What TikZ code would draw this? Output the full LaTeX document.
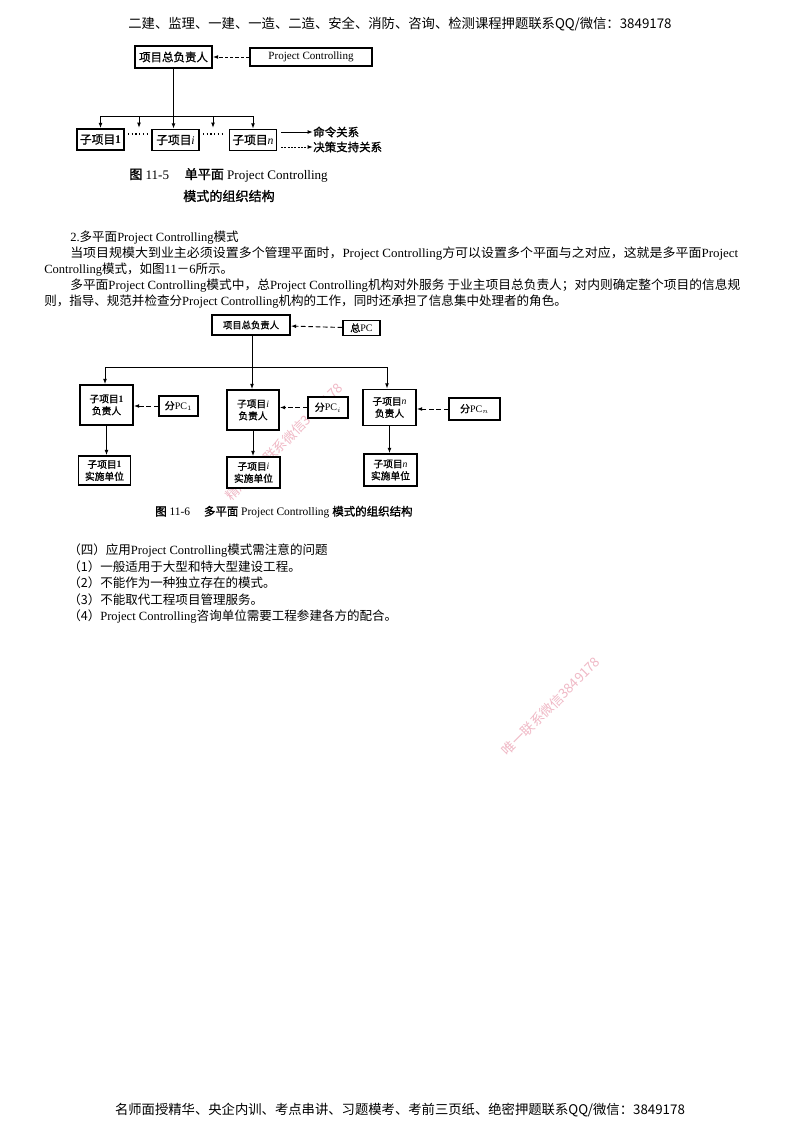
\documentclass[tikz,border=0pt]{standalone}
\usepackage{fontspec}
\usepackage{graphicx}
\setmainfont{Liberation Serif}
\newfontfamily\cjk{Noto Sans CJK SC}
\newfontfamily\cjkb{Noto Sans CJK SC}[FakeBold=1.2]
\usetikzlibrary{arrows.meta}
\definecolor{wm}{RGB}{240,185,198}
\newcommand\zh[1]{{\cjk #1}}
\newcommand\zhb[1]{{\cjkb #1}}
\newcommand\rmi[1]{{\rmfamily\itshape #1}}
\newcommand\rmn[1]{{\rmfamily\bfseries #1}}
\begin{document}
\begin{tikzpicture}[x=0.75pt,y=-0.75pt,
  box/.style={draw, line width=1.1pt, fill=white, inner sep=0pt, align=center},
  conn/.style={line width=0.7pt},
  arr/.style={-{Latex[length=4pt,width=2.8pt]}},
  dsh/.style={dash pattern=on 2.5pt off 1.5pt},
  body/.style={anchor=west, inner sep=0pt, font=\fontsize{9.4}{11}\selectfont},
  wmark/.style={text=wm, font=\cjk\fontsize{10}{12}\selectfont, rotate=45, inner sep=0pt},
  lab1/.style={font=\cjkb\fontsize{8.8}{10}\selectfont},
  lab2/.style={font=\cjkb\fontsize{7.3}{9}\selectfont}]
\useasboundingbox[fill=white] (0,0) rectangle (800,1132);

% header / footer
\node[font=\cjk\fontsize{10}{12}\selectfont] (hdr) at (400,24) {二建、监理、一建、一造、二造、安全、消防、咨询、检测课程押题联系QQ/微信：3849178};
\node[font=\cjk\fontsize{10}{12}\selectfont] (ftr) at (400,1110) {名师面授精华、央企内训、考点串讲、习题模考、考前三页纸、绝密押题联系QQ/微信：3849178};

% ---------- Figure 11-5 ----------
\node[box, minimum width=57.75pt, minimum height=16.5pt, font=\cjkb\fontsize{8.6}{10}\selectfont] (T1) at (173.5,57) {项目总负责人};
\node[box, minimum width=91.5pt, minimum height=13.5pt, font=\fontsize{8.3}{10}\selectfont] (PC) at (311,57) {Project Controlling};
\draw[conn, arr, dsh] (PC) -- (T1);

\node[box, minimum width=35.25pt, minimum height=15.75pt, lab1] (B1) at (100.5,139.5) {子项目\rmn{1}};
\node[box, minimum width=35.25pt, minimum height=15.75pt, lab1] (Bi) at (175.5,140) {子项目\rmi{i}};
\node[box, minimum width=35.25pt, minimum height=15.75pt, lab1] (Bn) at (253,140) {子项目\rmi{n}};

\coordinate (J1) at (173.5,116);
\coordinate (H1L) at (100.5,116);
\coordinate (H1R) at (253,116);
\coordinate (D1t) at (139,116);
\coordinate (D1b) at (139,128);
\coordinate (D2t) at (213,116);
\coordinate (D2b) at (213,128);
\draw[conn] (T1.south) -- (J1);
\draw[conn] (H1L) -- (H1R);
\draw[conn, arr] (H1L) -- (B1.north);
\draw[conn, arr] (J1) -- (J1 |- Bi.north);
\draw[conn, arr] (H1R) -- (Bn.north);
\draw[conn, arr] (D1t) -- (D1b);
\draw[conn, arr] (D2t) -- (D2b);
\draw[line width=0.8pt, dash pattern=on 0.8pt off 2pt] (128,134) -- (150,134);
\draw[line width=0.8pt, dash pattern=on 0.8pt off 2pt] (203,134) -- (225,134);

% legend
\node[anchor=west, inner sep=0pt, font=\cjkb\fontsize{8.6}{10}\selectfont] (Lg1) at (313,132) {命令关系};
\node[anchor=west, inner sep=0pt, font=\cjkb\fontsize{8.6}{10}\selectfont] (Lg2) at (313,147) {决策支持关系};
\coordinate (Lg1s) at (281,132);
\coordinate (Lg2s) at (281,147);
\draw[conn, arr] (Lg1s) -- (Lg1.west);
\draw[conn, arr, dash pattern=on 1.5pt off 1pt] (Lg2s) -- (Lg2.west);

% caption
\node[anchor=west, inner sep=0pt, font=\fontsize{9.8}{12}\selectfont] (cap1) at (129,175) {\zhb{图} 11-5\hspace{1.2em}\zhb{单平面} Project Controlling};
\node[anchor=west, inner sep=0pt, font=\cjkb\fontsize{9.8}{12}\selectfont] (cap1b) at (183,196) {模式的组织结构};

% ---------- body text ----------
\node[body] (p1) at (70,238) {2.\zh{多平面}Project Controlling\zh{模式}};
\node[body] (p2) at (70,254) {\resizebox{501pt}{\height}{\zh{当项目规模大到业主必须设置多个管理平面时，}Project Controlling\zh{方可以设置多个平面与之对应，这就是多平面}Project}};
\node[body] (p3) at (44,270) {Controlling\zh{模式，如图}11\zh{－}6\zh{所示。}};
\node[body] (p4) at (70,286) {\resizebox{502.5pt}{\height}{\zh{多平面}Project Controlling\zh{模式中，总}Project Controlling\zh{机构对外服务 于业主项目总负责人；对内则确定整个项目的信息规}}};
\node[body] (p5) at (44,302) {\zh{则，指导、规范并检查分}Project Controlling\zh{机构的工作，同时还承担了信息集中处理者的角色。}};

% ---------- watermark in figure 11-6 ----------
\node[wmark] (wm1) at (284,442) {精准押题联系微信3849178};

% ---------- Figure 11-6 ----------
\node[box, minimum width=58.5pt, minimum height=15pt, font=\cjkb\fontsize{7}{9}\selectfont] (T2) at (251,325) {项目总负责人};
\node[box, minimum width=27.75pt, minimum height=11.25pt, font=\fontsize{7.5}{9}\selectfont] (ZPC) at (361.5,328) {\zhb{总}PC};
\draw[conn, arr, dash pattern=on 3.5pt off 2pt] (ZPC) -- (T2);

\node[box, minimum width=39.75pt, minimum height=30pt, lab2] (L1) at (106.5,405) {子项目\rmn{1}\\负责人};
\node[box, minimum width=39pt, minimum height=30pt, lab2] (M1) at (253,410) {子项目\rmi{i}\\负责人};
\node[box, minimum width=39.75pt, minimum height=27pt, lab2] (R1) at (389.5,407.5) {子项目\rmi{n}\\负责人};

\node[box, minimum width=29.25pt, minimum height=15pt, font=\fontsize{7.5}{9}\selectfont] (P1) at (178.5,406) {\zhb{分}PC$_1$};
\node[box, minimum width=30pt, minimum height=15.75pt, font=\fontsize{7.5}{9}\selectfont] (Pi) at (328,407.5) {\zhb{分}PC$_i$};
\node[box, minimum width=38.25pt, minimum height=16.5pt, font=\fontsize{7.5}{9}\selectfont] (Pn) at (474.5,409) {\zhb{分}PC$_n$};

\node[box, minimum width=39pt, minimum height=21.75pt, lab2] (L2) at (104.5,470.5) {子项目\rmn{1}\\实施单位};
\node[box, minimum width=39.75pt, minimum height=23.25pt, lab2] (M2) at (253.5,472.5) {子项目\rmi{i}\\实施单位};
\node[box, minimum width=39.75pt, minimum height=24pt, lab2] (R2) at (390.5,470) {子项目\rmi{n}\\实施单位};

\coordinate (J2) at (252,367);
\coordinate (H2L) at (105,367);
\coordinate (H2R) at (387,367);
\draw[conn] (T2.south -| J2) -- (J2);
\draw[conn] (H2L) -- (H2R);
\draw[conn, arr] (H2L) -- (H2L |- L1.north);
\draw[conn, arr] (J2) -- (J2 |- M1.north);
\draw[conn, arr] (H2R) -- (H2R |- R1.north);

\draw[conn, arr, dash pattern=on 3.5pt off 2pt] (P1) -- (P1 -| L1.east);
\draw[conn, arr, dash pattern=on 3.5pt off 2pt] (Pi) -- (Pi -| M1.east);
\draw[conn, arr, dash pattern=on 3.5pt off 2pt] (Pn) -- (Pn -| R1.east);

\draw[conn, arr] (L1.south) -- (L1.south |- L2.north);
\draw[conn, arr] (M1.south) -- (M1.south |- M2.north);
\draw[conn, arr] (R1.south) -- (R1.south |- R2.north);

\node[anchor=west, inner sep=0pt, font=\fontsize{8.6}{10}\selectfont] (cap2) at (155,512) {\zhb{图} 11-6\hspace{1.2em}\zhb{多平面} Project Controlling \zhb{模式的组织结构}};

% ---------- section (四) ----------
\node[body] (q0) at (68,550) {\zh{（四）应用}Project Controlling\zh{模式需注意的问题}};
\node[body] (q1) at (68,566.5) {\zh{（1）一般适用于大型和特大型建设工程。}};
\node[body] (q2) at (68,583) {\zh{（2）不能作为一种独立存在的模式。}};
\node[body] (q3) at (68,599.5) {\zh{（3）不能取代工程项目管理服务。}};
\node[body] (q4) at (68,616) {\zh{（4）}Project Controlling\zh{咨询单位需要工程参建各方的配合。}};

% watermark
\node[wmark] (wm2) at (551,706) {唯一联系微信3849178};
\end{tikzpicture}
\end{document}
